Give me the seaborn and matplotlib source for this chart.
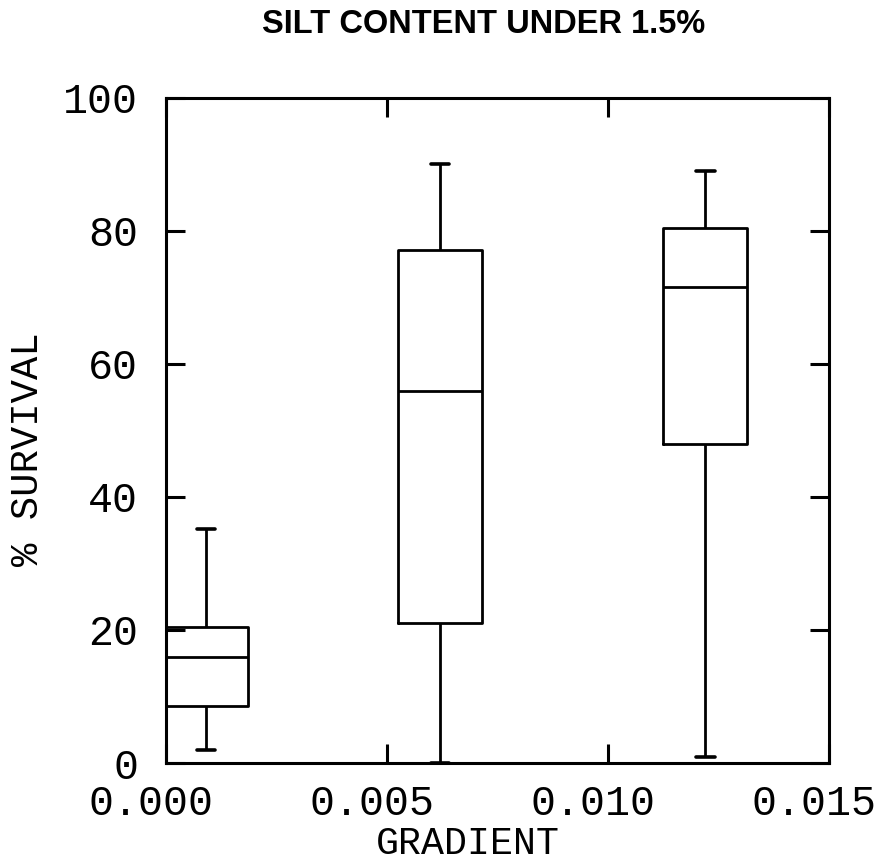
import matplotlib
matplotlib.use("Agg")
import matplotlib.pyplot as plt
import matplotlib.transforms as mtransforms
import numpy as np
import pandas as pd
import seaborn as sns

# box summary: gradient position and whisker/quartile values
gradient = [0.0009, 0.0062, 0.0122]
survival_min = [1.95, 0.0, 0.85]
survival_q1 = [8.5, 21.1, 48.0]
survival_med = [16.0, 55.9, 71.5]
survival_q3 = [20.5, 77.1, 80.4]
survival_max = [35.1, 90.0, 89.0]

x_ticks = [0.000, 0.005, 0.010, 0.015]
x_ticklabels = ["0.000", "0.005", "0.010", "0.015"]
y_ticks = [0, 20, 40, 60, 80, 100]

# five points per group give exactly these quartiles; whiskers span min..max
rows = []
for i, g in enumerate(gradient):
    for v in (survival_min[i], survival_q1[i], survival_med[i], survival_q3[i], survival_max[i]):
        rows.append({"gradient": g, "survival": v})
df = pd.DataFrame(rows)

sns.set_style("ticks")
plt.rcParams["font.family"] = ["Liberation Mono", "DejaVu Sans Mono"]
plt.rcParams["text.color"] = "black"
plt.rcParams["axes.labelcolor"] = "black"
plt.rcParams["xtick.color"] = "black"
plt.rcParams["ytick.color"] = "black"

fig = plt.figure(figsize=(8.84, 8.66), dpi=100)
ax = fig.add_axes([0.1878, 0.1189, 0.75, 0.7685])

box_w = 0.0019 / min(np.diff(gradient))
sns.boxplot(data=df, x="gradient", y="survival", native_scale=True, whis=(0, 100),
            fill=False, color="black", width=box_w, linewidth=2.0, ax=ax,
            medianprops={"color": "black", "linewidth": 2.0},
            whiskerprops={"color": "black", "linewidth": 2.0},
            capprops={"color": "black", "linewidth": 2.6},
            boxprops={"color": "black", "linewidth": 2.0})

# shorten the caps
cap_half = 0.00021
for line in ax.lines:
    xd = np.asarray(line.get_xdata(), dtype=float)
    yd = np.asarray(line.get_ydata(), dtype=float)
    if len(xd) == 2 and yd[0] == yd[1] and (xd[1] - xd[0]) < 0.0019 * 0.9 and (xd[1] - xd[0]) > 0:
        c = xd.mean()
        line.set_xdata([c - cap_half, c + cap_half])

ax.set_xlim(0, 0.015)
ax.set_ylim(0, 100)
ax.set_xticks(x_ticks)
ax.set_xticklabels(x_ticklabels)
ax.set_yticks(y_ticks)

for s in ax.spines.values():
    s.set_visible(True)
    s.set_linewidth(2.2)
    s.set_color("black")

ax.tick_params(axis="both", direction="in", length=14, width=2.2, colors="black",
               labelsize=30, top=True, right=True)
ax.tick_params(axis="x", pad=15)
ax.tick_params(axis="y", pad=20)

shift = mtransforms.ScaledTranslation(-0.15, 0, fig.dpi_scale_trans)
for lab in ax.get_xticklabels():
    lab.set_transform(lab.get_transform() + shift)

ax.set_xlabel("GRADIENT", fontsize=27.5, color="black")
ax.xaxis.set_label_coords(0.4555, -0.095)
ax.set_ylabel("% SURVIVAL", fontsize=28, va="center", color="black")
ax.yaxis.set_label_coords(-0.208, 0.472)

fig.text(0.5475, 0.972, "SILT CONTENT UNDER 1.5%", ha="center", va="center",
         fontsize=23.5, fontweight="bold", color="black",
         family=["Liberation Sans", "DejaVu Sans"])

fig.savefig("out.png", dpi=100, facecolor="white")
